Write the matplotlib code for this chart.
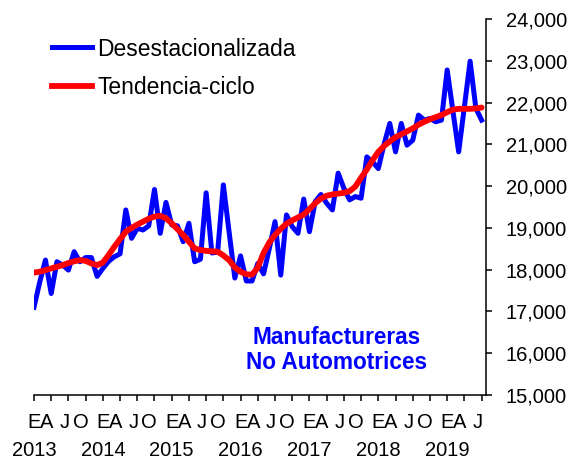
import matplotlib
matplotlib.use("Agg")
import matplotlib.pyplot as plt
from matplotlib.lines import Line2D

plt.rcParams['font.family'] = ['Liberation Sans', 'DejaVu Sans']

# Monthly data, Jan 2013 .. Jul 2019
desestacionalizada = [
    17100, 17700, 18230, 17430, 18190, 18110, 17990, 18430, 18190, 18290, 18290, 17840,  # 2013
    18030, 18200, 18310, 18380, 19430, 18750, 18990, 18950, 19050, 19920, 18870, 19610,  # 2014
    19070, 19050, 18670, 19110, 18190, 18250, 19840, 18400, 18420, 20030, 18900, 17800,  # 2015
    18330, 17730, 17730, 18150, 17900, 18500, 19150, 17870, 19310, 19030, 18870, 19690,  # 2016
    18910, 19630, 19800, 19590, 19430, 20310, 19950, 19670, 19750, 19710, 20700, 20580,  # 2017
    20420, 21000, 21500, 20820, 21500, 20980, 21100, 21700, 21580, 21620, 21540, 21580,  # 2018
    22780, 21800, 20820, 21900, 22990, 21860, 21580,                                     # 2019
]
tendencia_ciclo = [
    17930, 17950, 17990, 18030, 18070, 18110, 18160, 18200, 18230, 18210, 18150, 18110,
    18170, 18350, 18550, 18730, 18910, 19000, 19080, 19150, 19220, 19270, 19290, 19230,
    19110, 18970, 18830, 18670, 18510, 18470, 18450, 18440, 18430, 18340, 18230, 18050,
    17950, 17890, 17880, 18050, 18400, 18650, 18830, 18980, 19100, 19180, 19250, 19320,
    19450, 19590, 19700, 19770, 19800, 19820, 19840, 19880, 19990, 20200, 20400, 20620,
    20820, 20960, 21070, 21170, 21240, 21310, 21380, 21470, 21540, 21600, 21650, 21700,
    21770, 21830, 21850, 21850, 21850, 21860, 21880,
]
quarter_labels = ['E', 'A', 'J', 'O']
years = ['2013', '2014', '2015', '2016', '2017', '2018', '2019']
y_ticks = [15000, 16000, 17000, 18000, 19000, 20000, 21000, 22000, 23000, 24000]

fig = plt.figure(figsize=(5.72, 4.59), dpi=100)
ax = fig.add_axes([0.0594, 0.1394, 0.7911, 0.8192])

x = list(range(len(desestacionalizada)))
ax.plot(x, desestacionalizada, color='#0000FF', lw=3.6, solid_joinstyle='round', zorder=2)
ax.plot(x, tendencia_ciclo, color='#FF0000', lw=4.2, solid_joinstyle='round', solid_capstyle='round', zorder=3)

ax.set_xlim(0, 78.85)
ax.set_ylim(15000, 24000)

for s in ['left', 'top']:
    ax.spines[s].set_visible(False)
for s in ['right', 'bottom']:
    ax.spines[s].set_linewidth(1.1)
    ax.spines[s].set_color('black')

ax.yaxis.tick_right()
ax.set_yticks(y_ticks)
ax.set_yticklabels([f"{v:,}" for v in y_ticks])
ax.tick_params(axis='y', direction='out', length=4, width=1.1, labelsize=14.5, pad=10)

ticks = list(range(0, 79, 3))
ax.set_xticks(ticks)
ax.set_xticklabels([])
ax.tick_params(axis='x', direction='out', length=4, width=1.1)

letter_shift = {'E': 0.0, 'A': -0.8, 'J': -0.7, 'O': -0.9}
for k, t in enumerate(ticks):
    lab = quarter_labels[k % 4]
    ax.annotate(lab, xy=(t + letter_shift[lab], 0), xycoords=('data', 'axes fraction'),
                xytext=(0, -20), textcoords='offset points', ha='center', va='center',
                fontsize=14.5)
for k, yr in enumerate(years):
    ax.annotate(yr, xy=(12 * k, 0), xycoords=('data', 'axes fraction'),
                xytext=(0, -40), textcoords='offset points', ha='center', va='center',
                fontsize=14.5)

handles = [Line2D([], [], color='#0000FF', lw=3.6), Line2D([], [], color='#FF0000', lw=4.2)]
fig.legend(handles, ['Desestacionalizada', 'Tendencia-ciclo'], loc='upper left',
           bbox_to_anchor=(52 / 572, 1 - 37.5 / 459), frameon=False, borderpad=0,
           borderaxespad=0, handlelength=1.75, handletextpad=0.22, labelspacing=0.69,
           fontsize=16.5)

fig.text(337 / 572, 1 - 350 / 459, 'Manufactureras\nNo Automotrices', color='#0000FF',
         fontweight='bold', fontsize=16.3, ha='center', va='center', linespacing=1.15)

fig.savefig('out.png', dpi=100)
